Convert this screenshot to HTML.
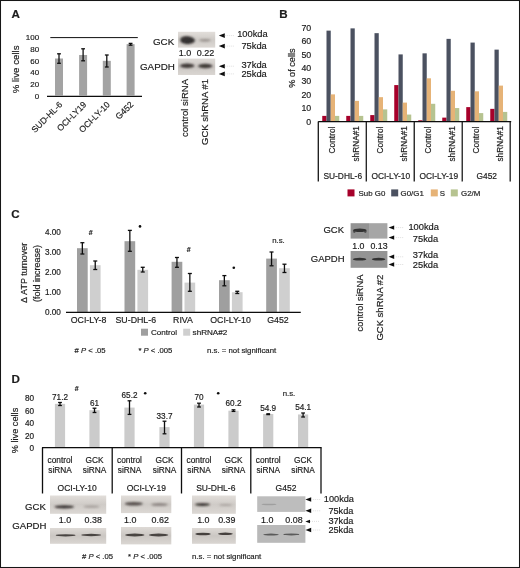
<!DOCTYPE html>
<html><head><meta charset="utf-8"><title>Figure</title>
<style>
html,body{margin:0;padding:0;background:#fff;}
body{width:520px;height:568px;overflow:hidden;}
svg{display:block;font-family:"Liberation Sans",sans-serif;}
text{fill:#1c1c1c;stroke:#1c1c1c;stroke-width:0.18px;}
</style></head><body>
<svg width="520" height="568" viewBox="0 0 520 568">
<defs>
<filter id="soft" filterUnits="userSpaceOnUse" x="0" y="0" width="520" height="568"><feGaussianBlur stdDeviation="0.32"/></filter>
<filter id="b1" x="-30%" y="-90%" width="160%" height="280%"><feGaussianBlur stdDeviation="0.9"/></filter>
<filter id="b2" x="-30%" y="-90%" width="160%" height="280%"><feGaussianBlur stdDeviation="0.6"/></filter>
<filter id="b3" x="-30%" y="-90%" width="160%" height="280%"><feGaussianBlur stdDeviation="1.6"/></filter>
<linearGradient id="gw" x1="0" y1="0" x2="0" y2="1">
<stop offset="0" stop-color="#e2deda"/><stop offset="0.5" stop-color="#cfcbc7"/><stop offset="1" stop-color="#dcd8d4"/>
</linearGradient>
<linearGradient id="gw2" x1="0" y1="0" x2="0" y2="1">
<stop offset="0" stop-color="#dedad6"/><stop offset="0.5" stop-color="#cbc7c3"/><stop offset="1" stop-color="#dad6d2"/>
</linearGradient>
</defs>
<rect x="0" y="0" width="520" height="568" fill="#fff"/>
<g filter="url(#soft)">

<text x="11.50" y="17.70" font-size="11.6" font-weight="bold" fill="#111">A</text>
<text x="39.20" y="40.30" font-size="8.0" text-anchor="end">100</text>
<text x="39.20" y="52.02" font-size="8.0" text-anchor="end">80</text>
<text x="39.20" y="63.74" font-size="8.0" text-anchor="end">60</text>
<text x="39.20" y="75.46" font-size="8.0" text-anchor="end">40</text>
<text x="39.20" y="87.18" font-size="8.0" text-anchor="end">20</text>
<text x="39.20" y="98.90" font-size="8.0" text-anchor="end">0</text>
<text x="19.09" y="69.40" font-size="9.7" text-anchor="middle" transform="rotate(-90 19.09 69.40)">% live cells</text>
<line x1="50.30" y1="37.60" x2="137.80" y2="37.60" stroke="#111" stroke-width="1.0"/>
<line x1="47.00" y1="96.30" x2="142.00" y2="96.30" stroke="#111" stroke-width="1.25"/>
<rect x="55.00" y="58.50" width="8.00" height="37.50" fill="#a3a3a3" />
<line x1="59.00" y1="53.80" x2="59.00" y2="63.30" stroke="#111" stroke-width="1.3"/>
<line x1="57.10" y1="53.80" x2="60.90" y2="53.80" stroke="#111" stroke-width="1.3"/>
<line x1="57.10" y1="63.30" x2="60.90" y2="63.30" stroke="#111" stroke-width="1.3"/>
<rect x="79.10" y="54.98" width="8.00" height="41.02" fill="#a3a3a3" />
<line x1="83.10" y1="48.80" x2="83.10" y2="60.80" stroke="#111" stroke-width="1.3"/>
<line x1="81.20" y1="48.80" x2="85.00" y2="48.80" stroke="#111" stroke-width="1.3"/>
<line x1="81.20" y1="60.80" x2="85.00" y2="60.80" stroke="#111" stroke-width="1.3"/>
<rect x="102.80" y="60.84" width="8.00" height="35.16" fill="#a3a3a3" />
<line x1="106.80" y1="55.00" x2="106.80" y2="67.00" stroke="#111" stroke-width="1.3"/>
<line x1="104.90" y1="55.00" x2="108.70" y2="55.00" stroke="#111" stroke-width="1.3"/>
<line x1="104.90" y1="67.00" x2="108.70" y2="67.00" stroke="#111" stroke-width="1.3"/>
<rect x="126.60" y="44.14" width="8.00" height="51.86" fill="#a3a3a3" />
<line x1="130.60" y1="43.40" x2="130.60" y2="45.20" stroke="#111" stroke-width="1.3"/>
<line x1="128.70" y1="43.40" x2="132.50" y2="43.40" stroke="#111" stroke-width="1.3"/>
<line x1="128.70" y1="45.20" x2="132.50" y2="45.20" stroke="#111" stroke-width="1.3"/>
<text x="63.00" y="105.20" font-size="8.6" text-anchor="end" transform="rotate(-45 63.00 105.20)">SUD-HL-6</text>
<text x="87.00" y="105.20" font-size="8.6" text-anchor="end" transform="rotate(-45 87.00 105.20)">OCI-LY19</text>
<text x="110.50" y="105.20" font-size="8.6" text-anchor="end" transform="rotate(-45 110.50 105.20)">OCI-LY-10</text>
<text x="134.00" y="105.20" font-size="8.6" text-anchor="end" transform="rotate(-45 134.00 105.20)">G452</text>
<text x="153.00" y="44.80" font-size="9.8">GCK</text>
<text x="140.00" y="69.80" font-size="9.8">GAPDH</text>
<rect x="178.00" y="31.80" width="37.20" height="15.80" fill="url(#gw)" />
<ellipse cx="187.60" cy="40.40" rx="7.25" ry="3.80" fill="#353030" opacity="1.0" filter="url(#b1)"/>
<ellipse cx="185.00" cy="38.60" rx="4.50" ry="2.00" fill="#353030" opacity="0.6" filter="url(#b1)"/>
<ellipse cx="205.00" cy="40.30" rx="5.75" ry="1.40" fill="#8d8682" opacity="0.8" filter="url(#b1)"/>
<text x="185.00" y="56.20" font-size="9.0" text-anchor="middle">1.0</text>
<text x="205.60" y="56.20" font-size="9.0" text-anchor="middle">0.22</text>
<rect x="178.00" y="58.60" width="37.20" height="16.40" fill="url(#gw2)" />
<ellipse cx="187.20" cy="65.80" rx="7.25" ry="2.20" fill="#403b39" opacity="1.0" filter="url(#b1)"/>
<ellipse cx="205.30" cy="66.00" rx="7.25" ry="2.20" fill="#403b39" opacity="1.0" filter="url(#b1)"/>
<path d="M218.80 35.60 L224.80 33.30 L224.80 37.90 Z" fill="#111"/>
<line x1="224.80" y1="35.60" x2="234.80" y2="35.60" stroke="#d6d6d6" stroke-width="0.8" stroke-dasharray="1 1"/>
<text x="237.20" y="37.20" font-size="9.3">100kda</text>
<path d="M218.80 46.10 L224.80 43.80 L224.80 48.40 Z" fill="#111"/>
<line x1="224.80" y1="46.10" x2="234.80" y2="46.10" stroke="#d6d6d6" stroke-width="0.8" stroke-dasharray="1 1"/>
<text x="241.40" y="49.30" font-size="9.3">75kda</text>
<path d="M218.80 66.20 L224.80 63.90 L224.80 68.50 Z" fill="#111"/>
<line x1="224.80" y1="66.20" x2="234.80" y2="66.20" stroke="#d6d6d6" stroke-width="0.8" stroke-dasharray="1 1"/>
<text x="241.40" y="67.80" font-size="9.3">37kda</text>
<path d="M218.80 73.90 L224.80 71.60 L224.80 76.20 Z" fill="#111"/>
<line x1="224.80" y1="73.90" x2="234.80" y2="73.90" stroke="#d6d6d6" stroke-width="0.8" stroke-dasharray="1 1"/>
<text x="241.40" y="77.10" font-size="9.3">25kda</text>
<text x="188.22" y="108.00" font-size="9.5" text-anchor="middle" transform="rotate(-90 188.22 108.00)">control siRNA</text>
<text x="208.02" y="112.00" font-size="9.5" text-anchor="middle" transform="rotate(-90 208.02 112.00)">GCK shRNA #1</text>
<text x="279.30" y="17.60" font-size="11.6" font-weight="bold" fill="#111">B</text>
<text x="311.20" y="124.50" font-size="8.8" text-anchor="end">0</text>
<text x="311.20" y="111.12" font-size="8.8" text-anchor="end">10</text>
<text x="311.20" y="97.74" font-size="8.8" text-anchor="end">20</text>
<text x="311.20" y="84.36" font-size="8.8" text-anchor="end">30</text>
<text x="311.20" y="70.98" font-size="8.8" text-anchor="end">40</text>
<text x="311.20" y="57.60" font-size="8.8" text-anchor="end">50</text>
<text x="311.20" y="44.22" font-size="8.8" text-anchor="end">60</text>
<text x="311.20" y="30.84" font-size="8.8" text-anchor="end">70</text>
<text x="295.31" y="68.00" font-size="9.2" text-anchor="middle" transform="rotate(-90 295.31 68.00)">% of cells</text>
<rect x="322.25" y="115.89" width="4.25" height="5.71" fill="#a6002a" />
<rect x="326.50" y="30.63" width="4.25" height="90.97" fill="#4b5161" />
<rect x="330.75" y="94.38" width="4.25" height="27.22" fill="#e6b377" />
<rect x="335.00" y="115.89" width="4.25" height="5.71" fill="#b6c390" />
<text x="334.64" y="140.00" font-size="8.3" text-anchor="middle" transform="rotate(-90 334.64 140.00)">Control</text>
<rect x="346.25" y="115.89" width="4.25" height="5.71" fill="#a6002a" />
<rect x="350.50" y="28.37" width="4.25" height="93.23" fill="#4b5161" />
<rect x="354.75" y="100.88" width="4.25" height="20.72" fill="#e6b377" />
<rect x="359.00" y="115.89" width="4.25" height="5.71" fill="#b6c390" />
<text x="358.54" y="143.80" font-size="8.3" text-anchor="middle" transform="rotate(-90 358.54 143.80)">shRNA#1</text>
<rect x="370.25" y="115.09" width="4.25" height="6.51" fill="#a6002a" />
<rect x="374.50" y="33.16" width="4.25" height="88.44" fill="#4b5161" />
<rect x="378.75" y="97.16" width="4.25" height="24.44" fill="#e6b377" />
<rect x="383.00" y="109.38" width="4.25" height="12.22" fill="#b6c390" />
<text x="382.64" y="140.00" font-size="8.3" text-anchor="middle" transform="rotate(-90 382.64 140.00)">Control</text>
<rect x="394.25" y="85.08" width="4.25" height="36.52" fill="#a6002a" />
<rect x="398.50" y="54.40" width="4.25" height="67.20" fill="#4b5161" />
<rect x="402.75" y="102.61" width="4.25" height="18.99" fill="#e6b377" />
<rect x="407.00" y="114.56" width="4.25" height="7.04" fill="#b6c390" />
<text x="406.54" y="143.80" font-size="8.3" text-anchor="middle" transform="rotate(-90 406.54 143.80)">shRNA#1</text>
<rect x="418.25" y="120.27" width="4.25" height="1.33" fill="#a6002a" />
<rect x="422.50" y="53.34" width="4.25" height="68.26" fill="#4b5161" />
<rect x="426.75" y="78.31" width="4.25" height="43.29" fill="#e6b377" />
<rect x="431.00" y="103.80" width="4.25" height="17.80" fill="#b6c390" />
<text x="430.64" y="140.00" font-size="8.3" text-anchor="middle" transform="rotate(-90 430.64 140.00)">Control</text>
<rect x="442.25" y="117.62" width="4.25" height="3.98" fill="#a6002a" />
<rect x="446.50" y="38.87" width="4.25" height="82.73" fill="#4b5161" />
<rect x="450.75" y="90.79" width="4.25" height="30.81" fill="#e6b377" />
<rect x="455.00" y="108.05" width="4.25" height="13.55" fill="#b6c390" />
<text x="454.54" y="143.80" font-size="8.3" text-anchor="middle" transform="rotate(-90 454.54 143.80)">shRNA#1</text>
<rect x="466.25" y="107.12" width="4.25" height="14.48" fill="#a6002a" />
<rect x="470.50" y="42.58" width="4.25" height="79.02" fill="#4b5161" />
<rect x="474.75" y="91.32" width="4.25" height="30.28" fill="#e6b377" />
<rect x="479.00" y="113.10" width="4.25" height="8.50" fill="#b6c390" />
<text x="478.64" y="140.00" font-size="8.3" text-anchor="middle" transform="rotate(-90 478.64 140.00)">Control</text>
<rect x="490.25" y="108.85" width="4.25" height="12.75" fill="#a6002a" />
<rect x="494.50" y="49.62" width="4.25" height="71.98" fill="#4b5161" />
<rect x="498.75" y="85.61" width="4.25" height="35.99" fill="#e6b377" />
<rect x="503.00" y="111.91" width="4.25" height="9.69" fill="#b6c390" />
<text x="502.54" y="143.80" font-size="8.3" text-anchor="middle" transform="rotate(-90 502.54 143.80)">shRNA#1</text>
<line x1="318.20" y1="121.70" x2="511.20" y2="121.70" stroke="#111" stroke-width="1.3"/>
<line x1="318.30" y1="121.60" x2="318.30" y2="181.40" stroke="#111" stroke-width="1.25"/>
<line x1="366.27" y1="121.60" x2="366.27" y2="181.40" stroke="#111" stroke-width="1.25"/>
<line x1="414.24" y1="121.60" x2="414.24" y2="181.40" stroke="#111" stroke-width="1.25"/>
<line x1="462.21" y1="121.60" x2="462.21" y2="181.40" stroke="#111" stroke-width="1.25"/>
<line x1="510.18" y1="121.60" x2="510.18" y2="181.40" stroke="#111" stroke-width="1.25"/>
<text x="342.75" y="178.80" font-size="8.4" text-anchor="middle">SU-DHL-6</text>
<text x="390.75" y="178.80" font-size="8.4" text-anchor="middle">OCI-LY-10</text>
<text x="438.75" y="178.80" font-size="8.4" text-anchor="middle">OCI-LY-19</text>
<text x="486.75" y="178.80" font-size="8.4" text-anchor="middle">G452</text>
<rect x="347.50" y="189.40" width="7.00" height="7.00" fill="#a6002a" />
<text x="358.60" y="195.60" font-size="7.9">Sub G0</text>
<rect x="391.20" y="189.40" width="7.00" height="7.00" fill="#4b5161" />
<text x="400.60" y="195.60" font-size="7.9">G0/G1</text>
<rect x="430.80" y="189.40" width="7.00" height="7.00" fill="#e6b377" />
<text x="439.80" y="195.60" font-size="7.9">S</text>
<rect x="450.80" y="189.40" width="7.00" height="7.00" fill="#b6c390" />
<text x="461.00" y="195.60" font-size="7.9">G2/M</text>
<text x="11.30" y="218.20" font-size="11.6" font-weight="bold" fill="#111">C</text>
<text x="60.90" y="315.10" font-size="8.2" text-anchor="end">0.00</text>
<text x="60.90" y="295.10" font-size="8.2" text-anchor="end">1.00</text>
<text x="60.90" y="275.10" font-size="8.2" text-anchor="end">2.00</text>
<text x="60.90" y="255.10" font-size="8.2" text-anchor="end">3.00</text>
<text x="60.90" y="235.10" font-size="8.2" text-anchor="end">4.00</text>
<text x="27.24" y="272.80" font-size="9.0" text-anchor="middle" transform="rotate(-90 27.24 272.80)">Δ ATP turnover</text>
<text x="39.84" y="273.50" font-size="9.0" text-anchor="middle" transform="rotate(-90 39.84 273.50)">(fold increase)</text>
<rect x="77.00" y="248.20" width="10.70" height="64.00" fill="#9f9f9f" />
<rect x="89.90" y="265.20" width="10.70" height="47.00" fill="#cfcfcf" />
<line x1="82.35" y1="242.70" x2="82.35" y2="254.00" stroke="#111" stroke-width="1.3"/>
<line x1="80.35" y1="242.70" x2="84.35" y2="242.70" stroke="#111" stroke-width="1.3"/>
<line x1="80.35" y1="254.00" x2="84.35" y2="254.00" stroke="#111" stroke-width="1.3"/>
<line x1="95.25" y1="261.00" x2="95.25" y2="269.50" stroke="#111" stroke-width="1.3"/>
<line x1="93.25" y1="261.00" x2="97.25" y2="261.00" stroke="#111" stroke-width="1.3"/>
<line x1="93.25" y1="269.50" x2="97.25" y2="269.50" stroke="#111" stroke-width="1.3"/>
<rect x="124.50" y="241.20" width="10.70" height="71.00" fill="#9f9f9f" />
<rect x="137.40" y="269.80" width="10.70" height="42.40" fill="#cfcfcf" />
<line x1="129.85" y1="230.40" x2="129.85" y2="251.30" stroke="#111" stroke-width="1.3"/>
<line x1="127.85" y1="230.40" x2="131.85" y2="230.40" stroke="#111" stroke-width="1.3"/>
<line x1="127.85" y1="251.30" x2="131.85" y2="251.30" stroke="#111" stroke-width="1.3"/>
<line x1="142.75" y1="267.30" x2="142.75" y2="272.00" stroke="#111" stroke-width="1.3"/>
<line x1="140.75" y1="267.30" x2="144.75" y2="267.30" stroke="#111" stroke-width="1.3"/>
<line x1="140.75" y1="272.00" x2="144.75" y2="272.00" stroke="#111" stroke-width="1.3"/>
<rect x="171.60" y="261.80" width="10.70" height="50.40" fill="#9f9f9f" />
<rect x="184.50" y="282.60" width="10.70" height="29.60" fill="#cfcfcf" />
<line x1="176.95" y1="257.50" x2="176.95" y2="267.30" stroke="#111" stroke-width="1.3"/>
<line x1="174.95" y1="257.50" x2="178.95" y2="257.50" stroke="#111" stroke-width="1.3"/>
<line x1="174.95" y1="267.30" x2="178.95" y2="267.30" stroke="#111" stroke-width="1.3"/>
<line x1="189.85" y1="273.50" x2="189.85" y2="291.30" stroke="#111" stroke-width="1.3"/>
<line x1="187.85" y1="273.50" x2="191.85" y2="273.50" stroke="#111" stroke-width="1.3"/>
<line x1="187.85" y1="291.30" x2="191.85" y2="291.30" stroke="#111" stroke-width="1.3"/>
<rect x="219.00" y="280.20" width="10.70" height="32.00" fill="#9f9f9f" />
<rect x="231.90" y="292.20" width="10.70" height="20.00" fill="#cfcfcf" />
<line x1="224.35" y1="275.60" x2="224.35" y2="285.80" stroke="#111" stroke-width="1.3"/>
<line x1="222.35" y1="275.60" x2="226.35" y2="275.60" stroke="#111" stroke-width="1.3"/>
<line x1="222.35" y1="285.80" x2="226.35" y2="285.80" stroke="#111" stroke-width="1.3"/>
<line x1="237.25" y1="291.30" x2="237.25" y2="293.50" stroke="#111" stroke-width="1.3"/>
<line x1="235.25" y1="291.30" x2="239.25" y2="291.30" stroke="#111" stroke-width="1.3"/>
<line x1="235.25" y1="293.50" x2="239.25" y2="293.50" stroke="#111" stroke-width="1.3"/>
<rect x="266.20" y="258.60" width="10.70" height="53.60" fill="#9f9f9f" />
<rect x="279.10" y="268.20" width="10.70" height="44.00" fill="#cfcfcf" />
<line x1="271.55" y1="252.00" x2="271.55" y2="265.80" stroke="#111" stroke-width="1.3"/>
<line x1="269.55" y1="252.00" x2="273.55" y2="252.00" stroke="#111" stroke-width="1.3"/>
<line x1="269.55" y1="265.80" x2="273.55" y2="265.80" stroke="#111" stroke-width="1.3"/>
<line x1="284.45" y1="264.20" x2="284.45" y2="272.50" stroke="#111" stroke-width="1.3"/>
<line x1="282.45" y1="264.20" x2="286.45" y2="264.20" stroke="#111" stroke-width="1.3"/>
<line x1="282.45" y1="272.50" x2="286.45" y2="272.50" stroke="#111" stroke-width="1.3"/>
<line x1="66.00" y1="312.40" x2="300.80" y2="312.40" stroke="#111" stroke-width="1.25"/>
<text x="88.60" y="322.80" font-size="8.8" text-anchor="middle">OCI-LY-8</text>
<text x="135.80" y="322.80" font-size="8.8" text-anchor="middle">SU-DHL-6</text>
<text x="183.00" y="322.80" font-size="8.8" text-anchor="middle">RIVA</text>
<text x="230.50" y="322.80" font-size="8.8" text-anchor="middle">OCI-LY-10</text>
<text x="278.00" y="322.80" font-size="8.8" text-anchor="middle">G452</text>
<text x="90.80" y="235.00" font-size="7.0" text-anchor="middle" font-weight="bold">#</text>
<circle cx="140" cy="226.4" r="1.3" fill="#111"/>
<text x="188.80" y="252.20" font-size="7.0" text-anchor="middle" font-weight="bold">#</text>
<circle cx="233.8" cy="267.8" r="1.3" fill="#111"/>
<text x="278.50" y="243.00" font-size="7.8" text-anchor="middle">n.s.</text>
<rect x="141.00" y="328.70" width="7.00" height="7.00" fill="#9f9f9f" />
<text x="151.00" y="335.00" font-size="8.1">Control</text>
<rect x="183.20" y="328.70" width="7.00" height="7.00" fill="#cfcfcf" />
<text x="192.60" y="335.00" font-size="8.1">shRNA#2</text>
<text x="74.60" y="353.40" font-size="7.7"># <tspan font-style="italic">P</tspan> &lt; .05</text>
<text x="138.40" y="353.40" font-size="7.7">* <tspan font-style="italic">P</tspan> &lt; .005</text>
<text x="207.00" y="353.40" font-size="7.8">n.s. = not significant</text>
<text x="323.40" y="233.40" font-size="9.5">GCK</text>
<text x="310.80" y="261.80" font-size="9.5">GAPDH</text>
<rect x="350.60" y="223.20" width="18.40" height="15.40" fill="#939393" />
<rect x="369.00" y="223.20" width="18.40" height="15.40" fill="#a6a6a6" />
<ellipse cx="359.80" cy="230.20" rx="6.75" ry="1.70" fill="#333" opacity="1.0" filter="url(#b2)"/>
<ellipse cx="354.30" cy="231.60" rx="1.30" ry="1.30" fill="#333" opacity="0.7" filter="url(#b2)"/>
<ellipse cx="365.30" cy="231.60" rx="1.30" ry="1.30" fill="#333" opacity="0.7" filter="url(#b2)"/>
<text x="358.40" y="248.60" font-size="8.8" text-anchor="middle">1.0</text>
<text x="379.00" y="248.60" font-size="8.8" text-anchor="middle">0.13</text>
<rect x="350.60" y="251.00" width="36.80" height="16.80" fill="#949494" />
<ellipse cx="359.60" cy="259.20" rx="6.75" ry="1.40" fill="#303030" opacity="1.0" filter="url(#b2)"/>
<ellipse cx="378.60" cy="259.20" rx="6.75" ry="1.40" fill="#303030" opacity="1.0" filter="url(#b2)"/>
<path d="M388.60 227.60 L394.20 225.40 L394.20 229.80 Z" fill="#111"/>
<line x1="394.20" y1="227.60" x2="403.20" y2="227.60" stroke="#d6d6d6" stroke-width="0.8" stroke-dasharray="1 1"/>
<text x="408.40" y="229.90" font-size="9.3">100kda</text>
<path d="M388.60 237.60 L394.20 235.40 L394.20 239.80 Z" fill="#111"/>
<line x1="394.20" y1="237.60" x2="403.20" y2="237.60" stroke="#d6d6d6" stroke-width="0.8" stroke-dasharray="1 1"/>
<text x="412.80" y="242.40" font-size="9.3">75kda</text>
<path d="M388.60 256.80 L394.20 254.60 L394.20 259.00 Z" fill="#111"/>
<line x1="394.20" y1="256.80" x2="403.20" y2="256.80" stroke="#d6d6d6" stroke-width="0.8" stroke-dasharray="1 1"/>
<text x="412.80" y="258.00" font-size="9.3">37kda</text>
<path d="M388.60 264.50 L394.20 262.30 L394.20 266.70 Z" fill="#111"/>
<line x1="394.20" y1="264.50" x2="403.20" y2="264.50" stroke="#d6d6d6" stroke-width="0.8" stroke-dasharray="1 1"/>
<text x="412.80" y="267.50" font-size="9.3">25kda</text>
<text x="363.35" y="303.00" font-size="9.3" text-anchor="middle" transform="rotate(-90 363.35 303.00)">control siRNA</text>
<text x="382.72" y="307.60" font-size="9.5" text-anchor="middle" transform="rotate(-90 382.72 307.60)">GCK shRNA #2</text>
<text x="11.50" y="382.80" font-size="11.6" font-weight="bold" fill="#111">D</text>
<text x="34.00" y="401.30" font-size="8.2" text-anchor="end">80</text>
<text x="34.00" y="413.70" font-size="8.2" text-anchor="end">60</text>
<text x="34.00" y="426.10" font-size="8.2" text-anchor="end">40</text>
<text x="34.00" y="438.50" font-size="8.2" text-anchor="end">20</text>
<text x="34.00" y="450.90" font-size="8.2" text-anchor="end">0</text>
<text x="18.31" y="430.50" font-size="9.2" text-anchor="middle" transform="rotate(-90 18.31 430.50)">% live cells</text>
<rect x="54.90" y="403.86" width="10.20" height="44.14" fill="#cbcbcb" />
<line x1="60.00" y1="402.50" x2="60.00" y2="405.50" stroke="#111" stroke-width="1.3"/>
<line x1="58.10" y1="402.50" x2="61.90" y2="402.50" stroke="#111" stroke-width="1.3"/>
<line x1="58.10" y1="405.50" x2="61.90" y2="405.50" stroke="#111" stroke-width="1.3"/>
<text x="60.00" y="400.10" font-size="8.2" text-anchor="middle">71.2</text>
<text x="60.00" y="462.80" font-size="8.3" text-anchor="middle">control</text>
<text x="60.00" y="473.00" font-size="8.3" text-anchor="middle">siRNA</text>
<rect x="89.40" y="410.18" width="10.20" height="37.82" fill="#cbcbcb" />
<line x1="94.50" y1="408.20" x2="94.50" y2="412.50" stroke="#111" stroke-width="1.3"/>
<line x1="92.60" y1="408.20" x2="96.40" y2="408.20" stroke="#111" stroke-width="1.3"/>
<line x1="92.60" y1="412.50" x2="96.40" y2="412.50" stroke="#111" stroke-width="1.3"/>
<text x="94.50" y="406.10" font-size="8.2" text-anchor="middle">61</text>
<text x="94.50" y="462.80" font-size="8.3" text-anchor="middle">GCK</text>
<text x="94.50" y="473.00" font-size="8.3" text-anchor="middle">siRNA</text>
<rect x="124.40" y="407.58" width="10.20" height="40.42" fill="#cbcbcb" />
<line x1="129.50" y1="400.80" x2="129.50" y2="414.40" stroke="#111" stroke-width="1.3"/>
<line x1="127.60" y1="400.80" x2="131.40" y2="400.80" stroke="#111" stroke-width="1.3"/>
<line x1="127.60" y1="414.40" x2="131.40" y2="414.40" stroke="#111" stroke-width="1.3"/>
<text x="129.50" y="397.80" font-size="8.2" text-anchor="middle">65.2</text>
<text x="129.50" y="462.80" font-size="8.3" text-anchor="middle">control</text>
<text x="129.50" y="473.00" font-size="8.3" text-anchor="middle">siRNA</text>
<rect x="159.40" y="427.11" width="10.20" height="20.89" fill="#cbcbcb" />
<line x1="164.50" y1="421.20" x2="164.50" y2="433.80" stroke="#111" stroke-width="1.3"/>
<line x1="162.60" y1="421.20" x2="166.40" y2="421.20" stroke="#111" stroke-width="1.3"/>
<line x1="162.60" y1="433.80" x2="166.40" y2="433.80" stroke="#111" stroke-width="1.3"/>
<text x="164.50" y="418.70" font-size="8.2" text-anchor="middle">33.7</text>
<text x="164.50" y="462.80" font-size="8.3" text-anchor="middle">GCK</text>
<text x="164.50" y="473.00" font-size="8.3" text-anchor="middle">siRNA</text>
<rect x="193.90" y="404.60" width="10.20" height="43.40" fill="#cbcbcb" />
<line x1="199.00" y1="403.20" x2="199.00" y2="407.00" stroke="#111" stroke-width="1.3"/>
<line x1="197.10" y1="403.20" x2="200.90" y2="403.20" stroke="#111" stroke-width="1.3"/>
<line x1="197.10" y1="407.00" x2="200.90" y2="407.00" stroke="#111" stroke-width="1.3"/>
<text x="199.00" y="399.80" font-size="8.2" text-anchor="middle">70</text>
<text x="199.00" y="462.80" font-size="8.3" text-anchor="middle">control</text>
<text x="199.00" y="473.00" font-size="8.3" text-anchor="middle">siRNA</text>
<rect x="228.40" y="410.68" width="10.20" height="37.32" fill="#cbcbcb" />
<line x1="233.50" y1="409.80" x2="233.50" y2="411.40" stroke="#111" stroke-width="1.3"/>
<line x1="231.60" y1="409.80" x2="235.40" y2="409.80" stroke="#111" stroke-width="1.3"/>
<line x1="231.60" y1="411.40" x2="235.40" y2="411.40" stroke="#111" stroke-width="1.3"/>
<text x="233.50" y="406.40" font-size="8.2" text-anchor="middle">60.2</text>
<text x="233.50" y="462.80" font-size="8.3" text-anchor="middle">GCK</text>
<text x="233.50" y="473.00" font-size="8.3" text-anchor="middle">siRNA</text>
<rect x="263.10" y="413.96" width="10.20" height="34.04" fill="#cbcbcb" />
<line x1="268.20" y1="413.80" x2="268.20" y2="414.60" stroke="#111" stroke-width="1.3"/>
<line x1="266.30" y1="413.80" x2="270.10" y2="413.80" stroke="#111" stroke-width="1.3"/>
<line x1="266.30" y1="414.60" x2="270.10" y2="414.60" stroke="#111" stroke-width="1.3"/>
<text x="268.20" y="410.60" font-size="8.2" text-anchor="middle">54.9</text>
<text x="268.20" y="462.80" font-size="8.3" text-anchor="middle">control</text>
<text x="268.20" y="473.00" font-size="8.3" text-anchor="middle">siRNA</text>
<rect x="298.00" y="414.46" width="10.20" height="33.54" fill="#cbcbcb" />
<line x1="303.10" y1="413.00" x2="303.10" y2="417.00" stroke="#111" stroke-width="1.3"/>
<line x1="301.20" y1="413.00" x2="305.00" y2="413.00" stroke="#111" stroke-width="1.3"/>
<line x1="301.20" y1="417.00" x2="305.00" y2="417.00" stroke="#111" stroke-width="1.3"/>
<text x="303.10" y="410.20" font-size="8.2" text-anchor="middle">54.1</text>
<text x="303.10" y="462.80" font-size="8.3" text-anchor="middle">GCK</text>
<text x="303.10" y="473.00" font-size="8.3" text-anchor="middle">siRNA</text>
<text x="76.80" y="391.40" font-size="7.0" text-anchor="middle" font-weight="bold">#</text>
<circle cx="145.2" cy="393.2" r="1.3" fill="#111"/>
<circle cx="218.2" cy="393.2" r="1.3" fill="#111"/>
<text x="289.00" y="396.40" font-size="7.8" text-anchor="middle">n.s.</text>
<line x1="42.00" y1="447.70" x2="321.60" y2="447.70" stroke="#111" stroke-width="1.3"/>
<line x1="42.50" y1="447.60" x2="42.50" y2="493.50" stroke="#111" stroke-width="1.3"/>
<line x1="112.20" y1="447.60" x2="112.20" y2="493.50" stroke="#111" stroke-width="1.3"/>
<line x1="181.50" y1="447.60" x2="181.50" y2="493.50" stroke="#111" stroke-width="1.3"/>
<line x1="250.80" y1="447.60" x2="250.80" y2="493.50" stroke="#111" stroke-width="1.3"/>
<line x1="321.00" y1="447.60" x2="321.00" y2="493.50" stroke="#111" stroke-width="1.3"/>
<text x="77.20" y="490.60" font-size="8.5" text-anchor="middle">OCI-LY-10</text>
<text x="146.30" y="490.60" font-size="8.5" text-anchor="middle">OCI-LY-19</text>
<text x="215.80" y="490.60" font-size="8.5" text-anchor="middle">SU-DHL-6</text>
<text x="286.00" y="490.60" font-size="8.5" text-anchor="middle">G452</text>
<text x="25.00" y="510.40" font-size="9.6">GCK</text>
<text x="12.30" y="529.20" font-size="9.6">GAPDH</text>
<rect x="50.00" y="495.50" width="56.20" height="18.30" fill="url(#gw)" />
<rect x="50.00" y="528.00" width="56.20" height="15.80" fill="url(#gw2)" />
<ellipse cx="64.30" cy="506.80" rx="10.00" ry="1.60" fill="#383331" opacity="1.0" filter="url(#b1)"/>
<ellipse cx="91.50" cy="506.60" rx="8.00" ry="1.10" fill="#8e8783" opacity="0.7" filter="url(#b1)"/>
<ellipse cx="65.60" cy="535.30" rx="10.00" ry="1.15" fill="#4a4543" opacity="1.0" filter="url(#b2)"/>
<ellipse cx="91.20" cy="535.00" rx="10.00" ry="1.15" fill="#4a4543" opacity="1.0" filter="url(#b2)"/>
<text x="65.00" y="523.20" font-size="8.9" text-anchor="middle">1.0</text>
<text x="93.20" y="523.20" font-size="8.9" text-anchor="middle">0.38</text>
<rect x="121.00" y="495.50" width="50.30" height="17.60" fill="url(#gw)" />
<rect x="121.00" y="527.00" width="50.30" height="17.40" fill="url(#gw2)" />
<ellipse cx="133.80" cy="503.80" rx="9.00" ry="1.80" fill="#544e4b" opacity="1.0" filter="url(#b1)"/>
<ellipse cx="159.50" cy="504.60" rx="8.50" ry="1.50" fill="#837c78" opacity="0.85" filter="url(#b1)"/>
<ellipse cx="134.80" cy="535.00" rx="9.75" ry="1.40" fill="#4a4543" opacity="1.0" filter="url(#b2)"/>
<ellipse cx="158.60" cy="535.00" rx="9.75" ry="1.40" fill="#4a4543" opacity="1.0" filter="url(#b2)"/>
<text x="130.20" y="523.20" font-size="8.9" text-anchor="middle">1.0</text>
<text x="160.20" y="523.20" font-size="8.9" text-anchor="middle">0.62</text>
<rect x="192.00" y="495.50" width="43.80" height="18.30" fill="url(#gw)" />
<rect x="192.00" y="528.00" width="43.80" height="15.80" fill="url(#gw2)" />
<ellipse cx="202.50" cy="504.60" rx="7.50" ry="1.40" fill="#2e2927" opacity="1.0" filter="url(#b1)"/>
<ellipse cx="225.60" cy="505.00" rx="6.50" ry="1.00" fill="#9a938f" opacity="0.7" filter="url(#b1)"/>
<ellipse cx="203.00" cy="534.00" rx="7.75" ry="1.25" fill="#45403e" opacity="1.0" filter="url(#b2)"/>
<ellipse cx="225.40" cy="533.80" rx="7.50" ry="1.25" fill="#45403e" opacity="1.0" filter="url(#b2)"/>
<text x="203.30" y="523.20" font-size="8.9" text-anchor="middle">1.0</text>
<text x="226.80" y="523.20" font-size="8.9" text-anchor="middle">0.39</text>
<rect x="257.20" y="496.30" width="48.20" height="15.60" fill="#bdbdbd" />
<rect x="257.20" y="525.00" width="48.20" height="17.80" fill="#b9b9b9" />
<ellipse cx="269.00" cy="504.40" rx="7.50" ry="0.75" fill="#8c8c8c" opacity="0.6" filter="url(#b2)"/>
<ellipse cx="271.00" cy="534.60" rx="7.75" ry="1.00" fill="#555" opacity="0.95" filter="url(#b2)"/>
<ellipse cx="291.30" cy="534.40" rx="8.00" ry="1.00" fill="#555" opacity="0.95" filter="url(#b2)"/>
<text x="267.20" y="523.20" font-size="8.9" text-anchor="middle">1.0</text>
<text x="294.00" y="523.20" font-size="8.9" text-anchor="middle">0.08</text>
<path d="M305.40 499.50 L311.20 497.30 L311.20 501.70 Z" fill="#111"/>
<line x1="311.20" y1="499.50" x2="320.20" y2="499.50" stroke="#d6d6d6" stroke-width="0.8" stroke-dasharray="1 1"/>
<text x="323.80" y="502.00" font-size="9.2">100kda</text>
<path d="M305.40 510.80 L311.20 508.60 L311.20 513.00 Z" fill="#111"/>
<line x1="311.20" y1="510.80" x2="320.20" y2="510.80" stroke="#d6d6d6" stroke-width="0.8" stroke-dasharray="1 1"/>
<text x="328.40" y="514.40" font-size="9.2">75kda</text>
<path d="M305.40 521.40 L310.00 519.66 L310.00 523.14 Z" fill="#111"/>
<line x1="310.00" y1="521.40" x2="319.00" y2="521.40" stroke="#d6d6d6" stroke-width="0.8" stroke-dasharray="1 1"/>
<text x="328.40" y="524.00" font-size="9.2">37kda</text>
<path d="M305.40 530.00 L311.20 527.80 L311.20 532.20 Z" fill="#111"/>
<line x1="311.20" y1="530.00" x2="320.20" y2="530.00" stroke="#d6d6d6" stroke-width="0.8" stroke-dasharray="1 1"/>
<text x="328.40" y="533.40" font-size="9.2">25kda</text>
<text x="82.00" y="558.60" font-size="7.7"># <tspan font-style="italic">P</tspan> &lt; .05</text>
<text x="128.00" y="558.60" font-size="7.7">* <tspan font-style="italic">P</tspan> &lt; .005</text>
<text x="192.00" y="558.60" font-size="7.8">n.s. = not significant</text>
</g>
<rect x="0.5" y="0.5" width="519" height="567" fill="none" stroke="#161616" stroke-width="1.05"/>
</svg></body></html>
